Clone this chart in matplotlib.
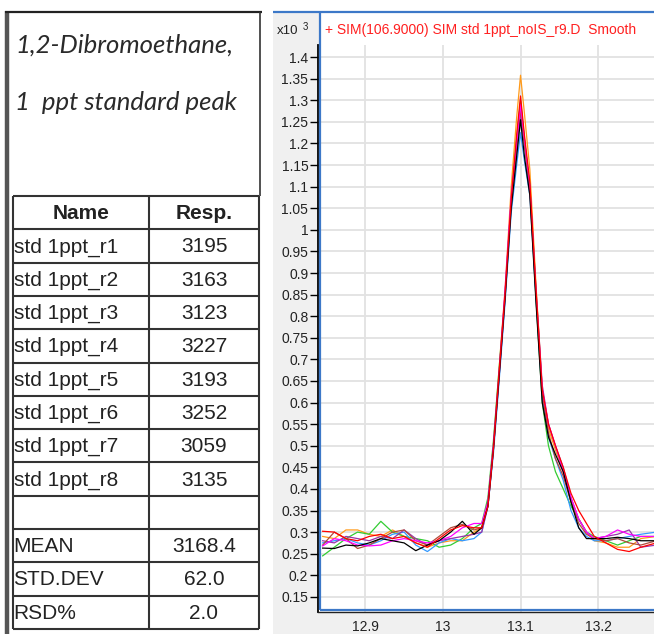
import matplotlib
matplotlib.use("Agg")
import matplotlib.pyplot as plt
from matplotlib.lines import Line2D
from matplotlib.patches import Rectangle

# ==========================================
# DATA
# ==========================================

title_line1 = "1,2-Dibromoethane,"
title_line2 = "1  ppt standard peak"

names = ["std 1ppt_r1", "std 1ppt_r2", "std 1ppt_r3", "std 1ppt_r4",
         "std 1ppt_r5", "std 1ppt_r6", "std 1ppt_r7", "std 1ppt_r8"]
resp = [3195, 3163, 3123, 3227, 3193, 3252, 3059, 3135]
stat_labels = ["MEAN", "STD.DEV", "RSD%"]
stat_values = ["3168.4", "62.0", "2.0"]

chart_title = "+ SIM(106.9000) SIM std 1ppt_noIS_r9.D  Smooth"

# retention time (min)
rt = [12.845, 12.86, 12.875, 12.89, 12.905, 12.92, 12.935, 12.95, 12.965, 12.98,
      12.995, 13.01, 13.025, 13.04, 13.05,
      13.058, 13.065, 13.072, 13.08, 13.088, 13.095, 13.1, 13.105, 13.112, 13.12,
      13.128, 13.136, 13.145, 13.155, 13.165, 13.175, 13.185,
      13.195, 13.21, 13.225, 13.24, 13.255, 13.275]

# abundance (x10^3), one list per injection
y_orange = [0.29, 0.285, 0.305, 0.305, 0.295, 0.29, 0.305, 0.29, 0.275, 0.265,
            0.275, 0.28, 0.28, 0.30, 0.31,
            0.37, 0.50, 0.67, 0.86, 1.10, 1.26, 1.358, 1.27, 1.14, 0.87,
            0.63, 0.54, 0.49, 0.44, 0.37, 0.33, 0.30,
            0.28, 0.275, 0.265, 0.265, 0.285, 0.29]
y_green = [0.245, 0.265, 0.285, 0.30, 0.295, 0.325, 0.30, 0.29, 0.285, 0.28,
           0.265, 0.27, 0.285, 0.31, 0.32,
           0.38, 0.51, 0.67, 0.85, 1.07, 1.21, 1.30, 1.21, 1.10, 0.84,
           0.60, 0.50, 0.44, 0.40, 0.36, 0.33, 0.30,
           0.29, 0.28, 0.27, 0.28, 0.29, 0.29]
y_blue = [0.275, 0.28, 0.285, 0.275, 0.27, 0.28, 0.295, 0.30, 0.27, 0.255,
          0.275, 0.285, 0.28, 0.285, 0.30,
          0.36, 0.48, 0.64, 0.83, 1.04, 1.15, 1.225, 1.16, 1.08, 0.84,
          0.61, 0.52, 0.47, 0.42, 0.35, 0.31, 0.29,
          0.28, 0.28, 0.285, 0.29, 0.295, 0.30]
y_purple = [0.28, 0.275, 0.29, 0.285, 0.28, 0.29, 0.285, 0.305, 0.285, 0.27,
            0.28, 0.285, 0.29, 0.295, 0.30,
            0.36, 0.49, 0.65, 0.84, 1.06, 1.19, 1.27, 1.20, 1.10, 0.86,
            0.64, 0.55, 0.50, 0.45, 0.38, 0.33, 0.30,
            0.285, 0.29, 0.295, 0.305, 0.265, 0.27]
y_brown = [0.27, 0.30, 0.285, 0.262, 0.27, 0.285, 0.30, 0.305, 0.28, 0.27,
           0.29, 0.31, 0.318, 0.305, 0.31,
           0.37, 0.50, 0.66, 0.85, 1.07, 1.19, 1.28, 1.20, 1.09, 0.85,
           0.62, 0.53, 0.47, 0.43, 0.37, 0.32, 0.295,
           0.285, 0.28, 0.285, 0.275, 0.27, 0.28]
y_magenta = [0.268, 0.285, 0.28, 0.27, 0.268, 0.27, 0.28, 0.285, 0.28, 0.275,
             0.28, 0.29, 0.31, 0.32, 0.32,
             0.37, 0.50, 0.66, 0.86, 1.08, 1.20, 1.29, 1.21, 1.10, 0.85,
             0.63, 0.55, 0.50, 0.44, 0.38, 0.33, 0.30,
             0.285, 0.29, 0.305, 0.295, 0.29, 0.29]
y_black = [0.263, 0.262, 0.27, 0.268, 0.275, 0.285, 0.28, 0.275, 0.257, 0.27,
           0.28, 0.30, 0.325, 0.295, 0.31,
           0.36, 0.49, 0.65, 0.84, 1.05, 1.17, 1.255, 1.17, 1.08, 0.83,
           0.60, 0.52, 0.48, 0.44, 0.37, 0.31, 0.285,
           0.285, 0.285, 0.288, 0.285, 0.28, 0.28]
y_red = [0.302, 0.30, 0.285, 0.28, 0.29, 0.295, 0.285, 0.29, 0.275, 0.265,
         0.285, 0.305, 0.315, 0.31, 0.31,
         0.36, 0.49, 0.66, 0.85, 1.07, 1.22, 1.31, 1.22, 1.11, 0.86,
         0.63, 0.55, 0.50, 0.45, 0.39, 0.35, 0.32,
         0.29, 0.275, 0.26, 0.255, 0.265, 0.275]

traces = [(y_orange, "#ff9a1a"), (y_green, "#33cc33"), (y_blue, "#3399ff"),
          (y_purple, "#9933aa"), (y_brown, "#b04a3a"), (y_magenta, "#ff00ff"),
          (y_black, "#000000"), (y_red, "#ff0000")]

y_ticks = [0.15, 0.2, 0.25, 0.3, 0.35, 0.4, 0.45, 0.5, 0.55, 0.6, 0.65, 0.7,
           0.75, 0.8, 0.85, 0.9, 0.95, 1.0, 1.05, 1.1, 1.15, 1.2, 1.25, 1.3,
           1.35, 1.4]
y_ticklabels = ["0.15", "0.2", "0.25", "0.3", "0.35", "0.4", "0.45", "0.5",
                "0.55", "0.6", "0.65", "0.7", "0.75", "0.8", "0.85", "0.9",
                "0.95", "1", "1.05", "1.1", "1.15", "1.2", "1.25", "1.3",
                "1.35", "1.4"]
x_ticks = [12.9, 13.0, 13.1, 13.2]
x_ticklabels = ["12.9", "13", "13.1", "13.2"]

# ==========================================
# FIGURE SETUP (pixel helpers)
# ==========================================

W, H = 654, 634
fig = plt.figure(figsize=(W / 100, H / 100), dpi=100)
fig.patch.set_facecolor("white")


def fx(x):
    return x / W


def fy(y):
    return 1 - y / H


def hline(x0, x1, y, color="#333333", lw=1.5, z=3):
    fig.add_artist(Line2D([fx(x0), fx(x1)], [fy(y), fy(y)], transform=fig.transFigure,
                          color=color, lw=lw, zorder=z, solid_capstyle="butt"))


def vline(x, y0, y1, color="#333333", lw=1.5, z=3):
    fig.add_artist(Line2D([fx(x), fx(x)], [fy(y0), fy(y1)], transform=fig.transFigure,
                          color=color, lw=lw, zorder=z, solid_capstyle="butt"))


# ==========================================
# LEFT PANEL: title + response table
# ==========================================

vline(7, 11, 634, color="#555555", lw=3.2)
hline(5, 262, 12, color="#222222", lw=1.6)
vline(260, 12, 196, color="#333333", lw=1.2)

fig.text(fx(15), fy(53), title_line1, fontsize=18.5, style="italic", family="Lato",
         color="#2a2a2a", va="baseline", ha="left")
fig.text(fx(15), fy(110), title_line2, fontsize=18.5, style="italic", family="Lato",
         color="#2a2a2a", va="baseline", ha="left")

tbl_left, tbl_mid, tbl_right = 13, 149, 259
tbl_top, row_h = 196, 33.3
n_rows = 1 + len(names) + 1 + len(stat_labels)
tbl_bottom = tbl_top + n_rows * row_h

for i in range(n_rows + 1):
    hline(tbl_left, tbl_right, tbl_top + i * row_h, lw=1.5)
for xv in (tbl_left, tbl_mid, tbl_right):
    vline(xv, tbl_top, tbl_bottom, lw=1.5)

cell_font = dict(family="Liberation Sans", fontsize=15, color="#222222", va="center")
col2_c = (tbl_mid + tbl_right) / 2


def row_y(i):
    return fy(tbl_top + (i + 0.5) * row_h + 1)


fig.text(fx((tbl_left + tbl_mid) / 2), row_y(0), "Name", ha="center", weight="bold", **cell_font)
fig.text(fx(col2_c), row_y(0), "Resp.", ha="center", weight="bold", **cell_font)
for i, (nm, rv) in enumerate(zip(names, resp)):
    fig.text(fx(tbl_left + 0.5), row_y(i + 1), nm, ha="left", **cell_font)
    fig.text(fx(col2_c), row_y(i + 1), str(rv), ha="center", **cell_font)
for j, (lab, val) in enumerate(zip(stat_labels, stat_values)):
    r = 1 + len(names) + 1 + j
    fig.text(fx(tbl_left + 0.5), row_y(r), lab, ha="left", **cell_font)
    fig.text(fx(col2_c), row_y(r), val, ha="center", **cell_font)

# ==========================================
# RIGHT PANEL: chromatogram
# ==========================================

fig.add_artist(Rectangle((fx(273), fy(634)), fx(654 - 273), (634 - 12) / H,
                         transform=fig.transFigure, facecolor="#f0f0f0",
                         edgecolor="none", zorder=-2))
fig.add_artist(Rectangle((fx(320), fy(610)), fx(654 - 320), (610 - 12) / H,
                         transform=fig.transFigure, facecolor="white",
                         edgecolor="none", zorder=-1))

ax = fig.add_axes([fx(318), fy(612), fx(654 - 318), (612 - 45) / H])
ax.set_facecolor("white")

for yv, col in traces:
    ax.plot(rt, yv, color=col, lw=0.9)

ax.set_xlim(12.839, 13.272)
ax.set_ylim(0.115, 1.428)
ax.set_yticks(y_ticks)
ax.set_yticklabels(y_ticklabels)
ax.set_xticks(x_ticks)
ax.set_xticklabels(x_ticklabels)
ax.grid(True, color="#e2e2e2", lw=1.3)
ax.set_axisbelow(True)
for s in ("top", "right"):
    ax.spines[s].set_visible(False)
ax.spines["left"].set_color("black")
ax.spines["left"].set_linewidth(1.3)
ax.spines["bottom"].set_color("#222222")
ax.spines["bottom"].set_linewidth(1.0)
ax.tick_params(axis="y", direction="out", length=6, width=1.0, pad=1,
               labelsize=10, labelcolor="#222222")
ax.tick_params(axis="x", direction="out", length=0, pad=6,
               labelsize=10, labelcolor="#222222")
for lab in ax.get_xticklabels() + ax.get_yticklabels():
    lab.set_family("Liberation Sans")

# blue pane frame
blue = "#3c78c8"
hline(273, 654, 12, color=blue, lw=1.6, z=5)
vline(320, 12, 610, color=blue, lw=1.6, z=5)
hline(320, 654, 610, color=blue, lw=1.6, z=5)

fig.text(fx(325), fy(30), chart_title, fontsize=10, color="#ff2020",
         family="Liberation Sans", va="center", ha="left")
fig.text(fx(277), fy(31), "x10", fontsize=9.5, color="#222222",
         family="Liberation Sans", va="center", ha="left")
fig.text(fx(303), fy(27), "3", fontsize=7, color="#222222",
         family="Liberation Sans", va="center", ha="left")

fig.savefig("out.png", dpi=100)
